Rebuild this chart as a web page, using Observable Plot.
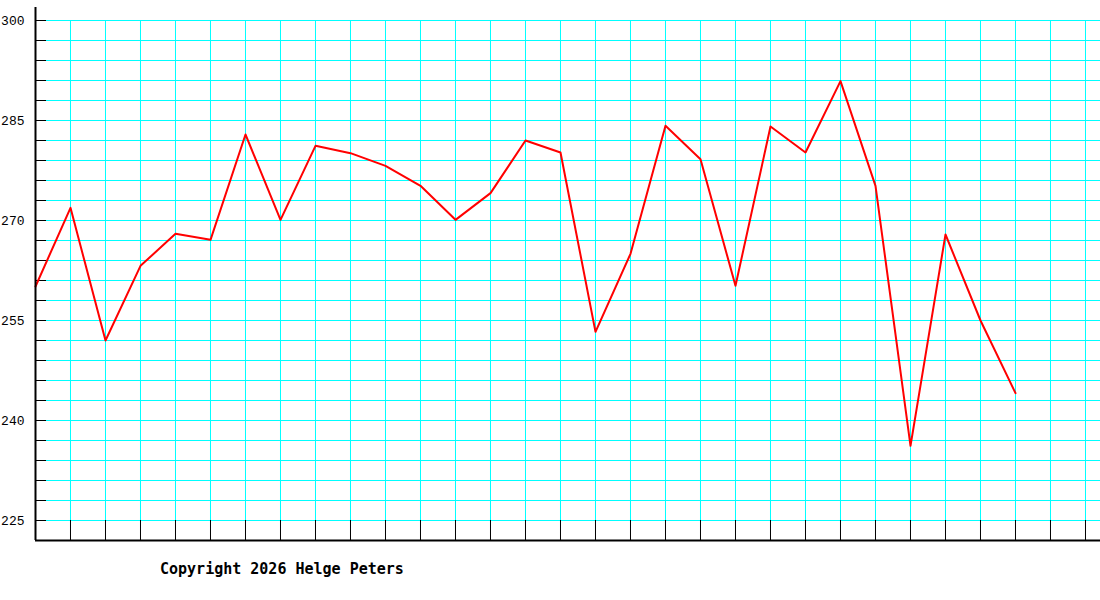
<!DOCTYPE html>
<html>
<head>
<meta charset="utf-8">
<script src="https://cdn.jsdelivr.net/npm/d3@7"></script>
<script src="https://cdn.jsdelivr.net/npm/@observablehq/plot@0.6"></script>
<style>
  html, body { margin: 0; padding: 0; background: #fff; }
  #wrap { position: relative; width: 1100px; height: 600px; }
  #caption { position: absolute; left: 160px; top: 562px; font: bold 15px/15px "DejaVu Sans Mono", monospace; color: #000; white-space: pre; }
</style>
</head>
<body>
<div id="wrap">
  <div id="chart"></div>
  <div id="caption">Copyright 2026 Helge Peters</div>
</div>
<script>
// Series values (one per grid column, left to right)
const values = [260.1, 271.9, 252.0, 263.2, 268.0, 267.1, 282.9, 270.1, 281.2, 280.1,
                278.2, 275.2, 270.1, 274.1, 282.0, 280.2, 253.3, 265.0, 284.2, 279.2,
                260.2, 284.1, 280.2, 290.9, 275.2, 236.2, 267.9, 255.0, 244.1];
// Y axis labels
const yTickLabels = [225, 240, 255, 270, 285, 300];
// Horizontal grid values (every 3 units)
const yGrid = d3.range(225, 301, 3);
// Vertical grid positions (column indices)
const xGrid = d3.range(1, 31);

const data = values.map((v, i) => ({i, v}));

const chart = Plot.plot({
  width: 1100,
  height: 550,
  marginLeft: 35,
  marginRight: 0,
  marginTop: 7,
  marginBottom: 10,
  style: {background: "white"},
  x: {domain: [0, 30.4286], axis: null},
  y: {domain: [222, 301.95]},
  marks: [
    Plot.ruleY(yGrid, {stroke: "#00ffff", strokeWidth: 1, insetLeft: 11}),
    Plot.ruleX(xGrid, {y1: 225, y2: 300, stroke: "#00ffff", strokeWidth: 1}),
    Plot.ruleY(yGrid, {stroke: "black", strokeWidth: 1, insetRight: 1054}),
    Plot.ruleX(xGrid, {y1: 222, y2: 225, stroke: "black", strokeWidth: 1}),
    Plot.lineY(data, {x: "i", y: "v", stroke: "#ff0000", strokeWidth: 2}),
    Plot.ruleX([0], {y1: 222, y2: 301.95, stroke: "black", strokeWidth: 2}),
    Plot.ruleY([222], {stroke: "black", strokeWidth: 2}),
    Plot.axisY(yTickLabels, {tickSize: 0, tickPadding: 11, fontSize: 13, fontFamily: "Liberation Mono", fontWeight: "normal", fill: "black", label: null})
  ]
});
document.getElementById("chart").appendChild(chart);
</script>
</body>
</html>
